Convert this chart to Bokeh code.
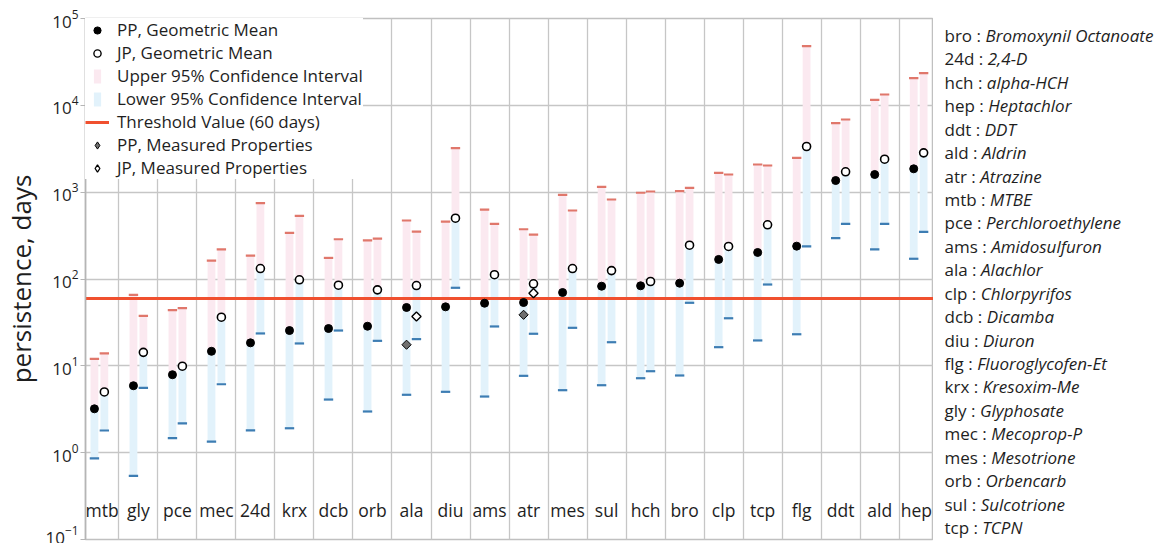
import numpy as np
from bokeh.plotting import figure
from bokeh.models import Range1d, FixedTicker, Legend, LegendItem, LogTickFormatter
from bokeh.layouts import row
from bokeh.embed import file_html
from bokeh.resources import INLINE
from bokeh.core.properties import value

# ---------------- data ----------------
categories = ["mtb", "gly", "pce", "mec", "24d", "krx", "dcb", "orb", "ala", "diu", "ams",
              "atr", "mes", "sul", "hch", "bro", "clp", "tcp", "flg", "ddt", "ald", "hep"]

pp_mean = [3.2, 5.9, 7.9, 14.7, 18.4, 25.5, 26.9, 28.6, 47.0, 47.8, 52.6,
           53.6, 69.9, 82.6, 83.5, 89.5, 168, 202, 239, 1362, 1597, 1858]
pp_lower = [0.86, 0.54, 1.47, 1.34, 1.81, 1.91, 4.09, 2.98, 4.64, 5.02, 4.43,
            7.67, 5.24, 5.98, 7.20, 7.74, 16.4, 19.6, 23.1, 295, 219, 171]
pp_upper = [12.0, 65.7, 43.7, 163, 186, 340, 175, 278, 472, 459, 631,
            374, 933, 1153, 984, 1026, 1671, 2083, 2487, 6228, 11580, 20530]

jp_mean = [5.0, 14.3, 9.9, 36.3, 132, 97.9, 84.8, 75.0, 84.1, 501, 112,
           88.0, 132, 125, 93.6, 245, 237, 421, 3357, 1716, 2397, 2838]
jp_lower = [1.80, 5.58, 2.18, 6.14, 23.6, 18.1, 25.5, 19.4, 20.3, 79.2, 28.4,
            23.4, 27.4, 18.7, 8.67, 53.2, 35.3, 86.4, 237, 432, 432, 349]
jp_upper = [13.9, 37.7, 46.1, 219, 746, 534, 287, 292, 352, 3208, 432,
            325, 615, 823, 1018, 1122, 1597, 2028, 47970, 6870, 13330, 23440]

measured_cats = ["ala", "atr"]
pp_measured = [17.5, 38.7]
jp_measured = [37.0, 68.6]

threshold = 60

y_ticks = [0.1, 1, 10, 100, 1000, 10000, 100000]

gloss_abbr = ["bro", "24d", "hch", "hep", "ddt", "ald", "atr", "mtb", "pce", "ams", "ala",
              "clp", "dcb", "diu", "flg", "krx", "gly", "mec", "mes", "orb", "sul", "tcp"]
gloss_name = ["Bromoxynil Octanoate", "2,4-D", "alpha-HCH", "Heptachlor", "DDT", "Aldrin",
              "Atrazine", "MTBE", "Perchloroethylene", "Amidosulfuron", "Alachlor",
              "Chlorpyrifos", "Dicamba", "Diuron", "Fluoroglycofen-Et", "Kresoxim-Me",
              "Glyphosate", "Mecoprop-P", "Mesotrione", "Orbencarb", "Sulcotrione", "TCPN"]

# ---------------- style ----------------
PINK = "#fbe9f0"
BLUE = "#e2f2fb"
RED_CAP = "#e0776b"
BLUE_CAP = "#3d7db3"
THRESH = "#f0502f"
GRID = "#c6c6c6"
TXT = "#1e1e1e"
FONT = "Open Sans"

OFF = 0.127      # half distance between PP and JP bars (category units)
BAR_W = 0.2
CAP_W = 0.24
LABEL_Y = 0.216
X_START, X_END = -0.356, 21.38

idx = np.arange(len(categories))
pp_x = idx - OFF
jp_x = idx + OFF
m_idx = np.array([categories.index(c) for c in measured_cats])

# label positions: centred in the visible part of each column
bounds = np.concatenate([[X_START], idx[:-1] + 0.5, [X_END]])
label_x = (bounds[:-1] + bounds[1:]) / 2

p = figure(width=933, height=543, y_axis_type="log",
           x_range=Range1d(X_START, X_END), y_range=Range1d(0.1, 1e5),
           output_backend="svg", toolbar_location=None,
           min_border_left=77, min_border_right=0, min_border_top=18, min_border_bottom=4)

p.xaxis.visible = False
p.xgrid.ticker = FixedTicker(ticks=list(idx[:-1] + 0.5))
p.ygrid.ticker = FixedTicker(ticks=y_ticks)
p.grid.grid_line_color = GRID
p.grid.grid_line_width = 1.3
p.yaxis.ticker = FixedTicker(ticks=y_ticks)
p.yaxis.formatter = LogTickFormatter()
p.yaxis.minor_tick_line_color = None
p.yaxis.major_tick_in = 0
p.yaxis.major_tick_out = 5
p.yaxis.major_tick_line_color = "#b5b5b5"
p.yaxis.axis_line_color = "#b5b5b5"
p.yaxis.axis_line_width = 1.5
p.yaxis.major_label_text_font = FONT
p.yaxis.major_label_text_font_size = "17px"
p.yaxis.major_label_text_color = TXT
p.yaxis.major_label_standoff = 2
p.yaxis.axis_label = "persistence, days"
p.yaxis.axis_label_text_font = FONT
p.yaxis.axis_label_text_font_style = "normal"
p.yaxis.axis_label_text_font_size = "26px"
p.yaxis.axis_label_text_color = TXT
p.yaxis.axis_label_standoff = 3
p.outline_line_color = "#c0c0c0"
p.outline_line_width = 1.5

# bars
p.vbar(x=pp_x, width=BAR_W, bottom=pp_mean, top=pp_upper, fill_color=PINK, line_color=None)
p.vbar(x=jp_x, width=BAR_W, bottom=jp_mean, top=jp_upper, fill_color=PINK, line_color=None)
p.vbar(x=pp_x, width=BAR_W, bottom=pp_lower, top=pp_mean, fill_color=BLUE, line_color=None)
p.vbar(x=jp_x, width=BAR_W, bottom=jp_lower, top=jp_mean, fill_color=BLUE, line_color=None)

# caps
for xs, ys, col in [(pp_x, pp_upper, RED_CAP), (jp_x, jp_upper, RED_CAP),
                    (pp_x, pp_lower, BLUE_CAP), (jp_x, jp_lower, BLUE_CAP)]:
    p.rect(x=xs, y=ys, width=CAP_W, height=2.2, height_units="screen",
           fill_color=col, line_color=None)

# threshold
p.hspan(y=[threshold], line_color=THRESH, line_width=3)

# markers
p.scatter(pp_x, pp_mean, marker="circle", size=8, fill_color="black", line_color="black")
p.scatter(jp_x, jp_mean, marker="circle", size=8, fill_color="white", line_color="black",
          line_width=1.6)
p.scatter(m_idx - OFF, pp_measured, marker="square", angle=np.pi / 4, size=6.5,
          fill_color="#707070", line_color="black", line_width=1)
p.scatter(m_idx + OFF, jp_measured, marker="square", angle=np.pi / 4, size=6.5,
          fill_color="white", line_color="black", line_width=1.4)

# category labels
p.text(x=label_x, y=[LABEL_Y] * len(categories), text=categories, text_align="center",
       text_baseline="middle", text_font=value(FONT), text_font_size="17.5px", text_color=TXT)

# legend-only renderers (hidden in the plot, drawn in the legend)
lg_pp = p.scatter(pp_x, pp_mean, marker="circle", size=6, fill_color="black",
                  line_color="black", visible=False)
lg_jp = p.scatter(jp_x, jp_mean, marker="circle", size=6, fill_color="white",
                  line_color="black", line_width=1.4, visible=False)
lg_up = p.scatter(pp_x, pp_upper, marker="dash", size=6, line_width=14,
                  line_color=PINK, visible=False)
lg_lo = p.scatter(pp_x, pp_lower, marker="dash", size=6, line_width=14,
                  line_color=BLUE, visible=False)
lg_th = p.line(idx, [threshold] * len(idx), line_color=THRESH, line_width=3, visible=False)
lg_ppm = p.scatter(m_idx - OFF, pp_measured, marker="diamond", size=10.5,
                   fill_color="#707070", line_color="black", line_width=1, visible=False)
lg_jpm = p.scatter(m_idx + OFF, jp_measured, marker="diamond", size=10.5,
                   fill_color="white", line_color="black", line_width=1.3, visible=False)

legend = Legend(items=[
    LegendItem(label="PP, Geometric Mean", renderers=[lg_pp]),
    LegendItem(label="JP, Geometric Mean", renderers=[lg_jp]),
    LegendItem(label="Upper 95% Confidence Interval", renderers=[lg_up]),
    LegendItem(label="Lower 95% Confidence Interval", renderers=[lg_lo]),
    LegendItem(label="Threshold Value (60 days)", renderers=[lg_th]),
    LegendItem(label="PP, Measured Properties", renderers=[lg_ppm]),
    LegendItem(label="JP, Measured Properties", renderers=[lg_jpm]),
], location="top_left")
legend.margin = 0
legend.padding = 6
legend.spacing = 0
legend.glyph_width = 24
legend.glyph_height = 18
legend.label_standoff = 8
legend.label_height = 18
legend.label_text_font = FONT
legend.label_text_font_size = "17px"
legend.label_text_color = TXT
legend.border_line_color = None
legend.background_fill_color = "white"
legend.background_fill_alpha = 1.0
legend.inactive_fill_alpha = 0.0
p.add_layout(legend)

# ---------------- glossary panel ----------------
FS = 17
OS_W = {" ": 532, ":": 545, "a": 1139, "b": 1255, "c": 975, "d": 1255, "e": 1149, "f": 694,
        "g": 1122, "h": 1257, "i": 518, "k": 1075, "l": 518, "m": 1905, "n": 1257, "o": 1237,
        "p": 1255, "r": 836, "s": 977, "t": 723, "u": 1257, "x": 1073, "y": 1028, "2": 1171,
        "4": 1171}


def text_w(s):
    return sum(OS_W.get(ch, 1100) for ch in s) / 2048.0 * FS


W2 = 230
H = 543
X0 = 11
# frame spans 18..539; first row at 35, last at 527
Y_TOP_VAL = -17 * 22.238 / 521
Y_BOT_VAL = Y_TOP_VAL + 22.238

p2 = figure(width=W2, height=H, x_range=Range1d(0, W2),
            y_range=Range1d(Y_BOT_VAL, Y_TOP_VAL),
            output_backend="svg", toolbar_location=None,
            min_border_left=0, min_border_right=0, min_border_top=18, min_border_bottom=4)
p2.axis.visible = False
p2.grid.visible = False
p2.outline_line_color = None

rows_i = list(range(len(gloss_abbr)))
p2.text(x=[X0] * len(gloss_abbr), y=rows_i, text=[a + " :" for a in gloss_abbr],
        text_align="left", text_baseline="middle", text_font=value(FONT),
        text_font_size=f"{FS}px", text_color=TXT)
p2.text(x=[X0 + text_w(a + " : ") for a in gloss_abbr], y=rows_i, text=gloss_name,
        text_align="left", text_baseline="middle", text_font=value(FONT),
        text_font_style="italic", text_font_size=f"{FS}px", text_color=TXT)

layout = row(p, p2)
open("out.html", "w").write(file_html(layout, INLINE))
